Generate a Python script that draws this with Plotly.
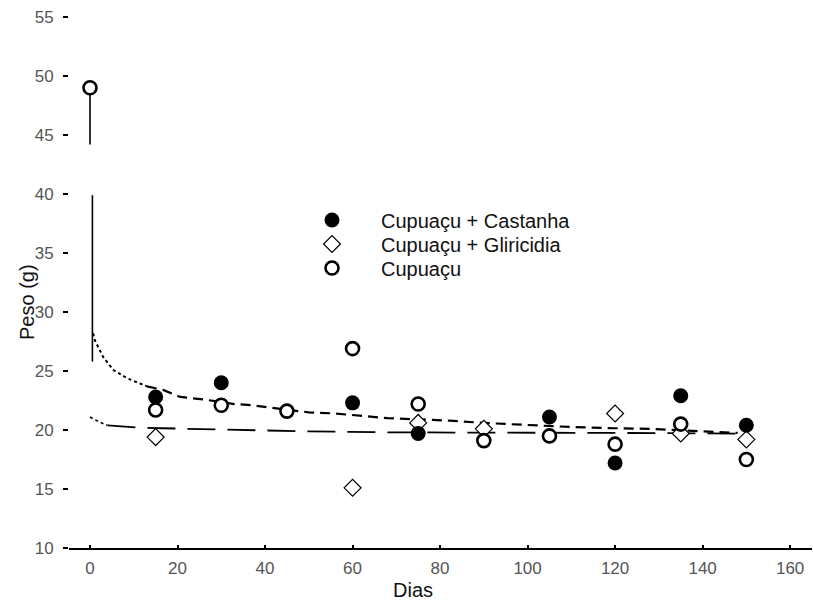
import plotly.graph_objects as go

# ---- data ----
dias = [0, 15, 30, 45, 60, 75, 90, 105, 120, 135, 150]
castanha = [None, 22.8, 24.0, None, 22.3, 19.7, None, 21.1, 17.2, 22.9, 20.4]
gliricidia = [None, 19.4, None, None, 15.1, 20.6, 20.1, None, 21.4, 19.7, 19.2]
cupuacu = [49.0, 21.7, 22.1, 21.6, 26.9, 22.2, 19.1, 19.5, 18.8, 20.5, 17.5]

# fitted curves
upper_dot_x = [0.7, 1.1, 3.0, 5.3, 8.4, 13.0]
upper_dot_y = [28.2, 27.6, 26.2, 25.1, 24.4, 23.7]
upper_x = [13.0, 16.7, 20.6, 25.8, 33, 37, 41, 50, 56, 62, 68, 75, 82, 90, 100, 110, 120, 128, 136, 143, 148]
upper_y = [23.7, 23.4, 22.8, 22.6, 22.2, 22.1, 21.9, 21.5, 21.4, 21.2, 21.0, 20.9, 20.8, 20.6, 20.4, 20.25, 20.15, 20.1, 19.95, 19.85, 19.75]
lower_dot_x = [0.0, 2.0, 4.0]
lower_dot_y = [21.1, 20.7, 20.4]
lower_x = [4.0, 8.5, 11.4, 16.5, 23, 33, 47.5, 69, 97, 120, 148]
lower_y = [20.4, 20.25, 20.2, 20.15, 20.1, 20.0, 19.9, 19.8, 19.8, 19.75, 19.7]
vert_x = [0, 0, None, 0.55, 0.55]
vert_y = [49.0, 44.2, None, 39.9, 25.8]

x_ticks = [0, 20, 40, 60, 80, 100, 120, 140, 160]
y_ticks = [10, 15, 20, 25, 30, 35, 40, 45, 50, 55]

FONT = "Liberation Sans, Arial, sans-serif"

fig = go.Figure()
fig.add_trace(go.Scatter(x=vert_x, y=vert_y, mode="lines", line=dict(color="black", width=1.6),
                         showlegend=False, hoverinfo="skip", connectgaps=False))
fig.add_trace(go.Scatter(x=upper_dot_x, y=upper_dot_y, mode="lines", line=dict(color="black", width=2, dash="dot"),
                         showlegend=False, hoverinfo="skip"))
fig.add_trace(go.Scatter(x=upper_x, y=upper_y, mode="lines", line=dict(color="black", width=2.2, dash="10px,6px"),
                         showlegend=False, hoverinfo="skip"))
fig.add_trace(go.Scatter(x=lower_dot_x, y=lower_dot_y, mode="lines", line=dict(color="black", width=1.6, dash="dot"),
                         showlegend=False, hoverinfo="skip"))
fig.add_trace(go.Scatter(x=lower_x, y=lower_y, mode="lines", line=dict(color="black", width=1.8, dash="28px,12px"),
                         showlegend=False, hoverinfo="skip"))

fig.add_trace(go.Scatter(x=dias, y=gliricidia, mode="markers", name="Cupuaçu + Gliricidia", legend="legend2",
                         marker=dict(symbol="diamond", size=13, color="white", line=dict(color="black", width=1.2))))
fig.add_trace(go.Scatter(x=dias, y=castanha, mode="markers", name="Cupuaçu + Castanha", legend="legend",
                         marker=dict(symbol="circle", size=15, color="black", line=dict(color="black", width=0))))
fig.add_trace(go.Scatter(x=dias, y=cupuacu, mode="markers", name="Cupuaçu", legend="legend3",
                         marker=dict(symbol="circle", size=13, color="white", line=dict(color="black", width=2.6))))

W, H = 813, 606
L, R, T, B = 69, 1, 10, 58
pw, ph = W - L - R, H - T - B

def px_x(p):
    return (p - L) / pw

def px_y(p):
    return (H - B - p) / ph

def leg(ypx):
    return dict(x=px_x(283), y=px_y(ypx), xanchor="left", yanchor="middle",
                bgcolor="rgba(0,0,0,0)", borderwidth=0, font=dict(size=20, color="#111"),
                itemwidth=88)

fig.update_layout(
    width=W, height=H,
    margin=dict(l=L, r=R, t=T, b=B, autoexpand=False),
    paper_bgcolor="white", plot_bgcolor="white",
    font=dict(family=FONT, size=19, color="#111"),
    showlegend=True,
    legend=leg(220), legend2=leg(244), legend3=leg(268),
    xaxis=dict(range=[-4.8, 165.0], tickvals=x_ticks, ticktext=[str(v) for v in x_ticks],
               showgrid=False, zeroline=False, showline=True, linecolor="black", linewidth=2,
               ticks="inside", ticklen=3, tickcolor="black", tickwidth=2, automargin=False,
               tickfont=dict(size=17, color="#555"), ticklabelstandoff=4),
    yaxis=dict(range=[10, 10 + ph / 11.8], tickvals=y_ticks, ticktext=[str(v) for v in y_ticks],
               showgrid=False, zeroline=False, showline=False, automargin=False,
               ticks="outside", ticklen=5, tickcolor="black", tickwidth=1.5,
               tickfont=dict(size=17, color="#555"), ticklabelstandoff=6),
    annotations=[
        dict(text="Dias", x=px_x(413), y=px_y(590), xref="paper", yref="paper",
             showarrow=False, font=dict(size=20, color="#111"), xanchor="center", yanchor="middle"),
        dict(text="Peso (g)", x=px_x(27), y=px_y(302), xref="paper", yref="paper", textangle=-90,
             showarrow=False, font=dict(size=20, color="#111"), xanchor="center", yanchor="middle"),
    ],
)

fig.write_html("out.html", config={"displayModeBar": False},
               post_script="document.body.style.margin='0';document.body.style.overflow='hidden';")
